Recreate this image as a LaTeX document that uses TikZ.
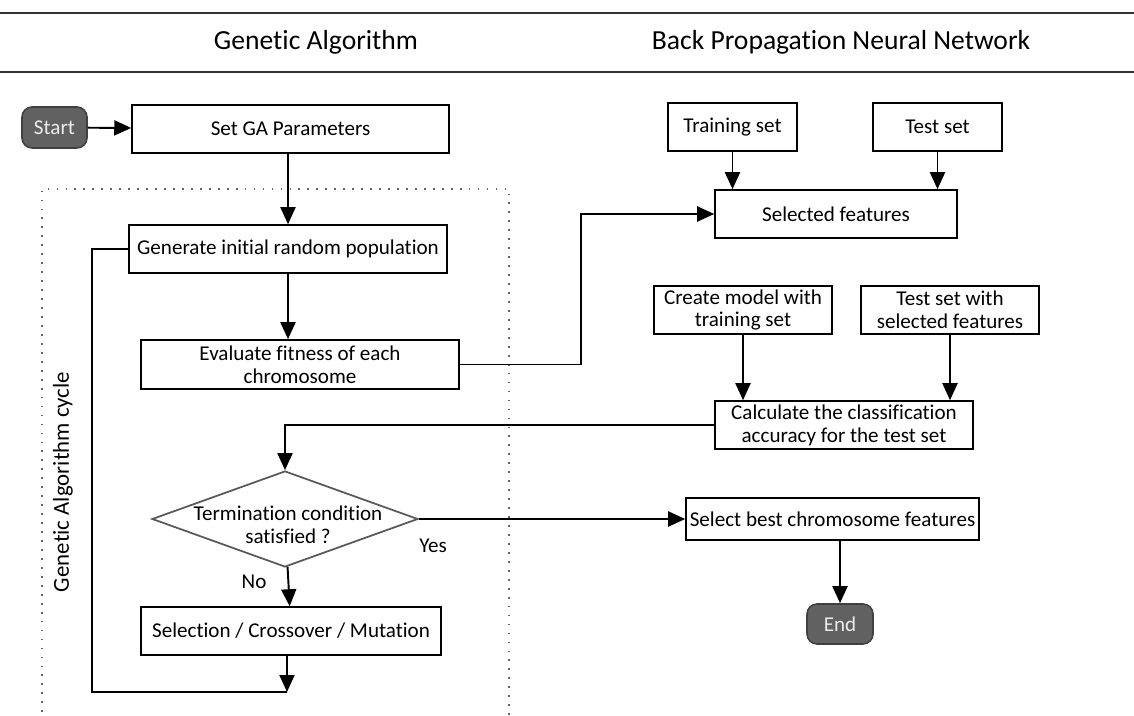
\documentclass[tikz,border=0pt]{standalone}
\usepackage{fontspec}
\setmainfont{Carlito}[Ligatures={NoCommon}]
\usetikzlibrary{
  arrows.meta,
  shapes.geometric
}
\tikzset{
  >={Triangle[length=0.34cm, width=0.3cm]},
  every node/.style = {font=\fontsize{12}{13}\selectfont},
  process/.style = {draw, line width=0.9pt, inner sep=2pt, align=center,
    minimum height=0.96cm},
  terminal/.style = {draw=black!75, fill=black!62, text=black!8,
    rounded corners=0.2cm, line width=0.9pt},
  decision/.style = {diamond, draw=black!65, line width=1pt, inner sep=0pt},
  flow/.style = {->, line width=1.1pt},
  link/.style = {line width=1.1pt},
  cycleframe/.style = {draw=black!60, line width=1pt,
    dash pattern=on 1pt off 4.1pt},
  headrule/.style = {draw=black!80, line width=1.5pt},
  headtext/.style = {font=\fontsize{15.7}{17}\selectfont},
}

\begin{document}
\begin{tikzpicture}[x=0.02cm, y=-0.02cm]
  \useasboundingbox (0,0) rectangle (1134,716);

  % headings
  \draw[headrule] (0,13) -- (1134,13);
  \draw[headrule] (0,72) -- (1134,72);
  \node[headtext] (gahead) at (316,42) {Genetic Algorithm};
  \node[headtext] (nnhead) at (841,42) {Back Propagation Neural Network};

  % GA cycle frame
  \draw[cycleframe] (42,730) |- (509,189) -- (509,730);
  \node[rotate=90, font=\fontsize{13}{14}\selectfont] (cyclelabel) at (63,482)
    {Genetic Algorithm cycle};

  % genetic algorithm
  \node[terminal, minimum width=1.3cm, minimum height=0.82cm] (start) at (54.5,127.5) {Start};
  \node[process, minimum width=6.34cm] (setga) at (290.5,129) {Set GA Parameters};
  \node[process, minimum width=6.36cm] (gen) at (288,249) {Generate initial random population};
  \node[process, minimum width=6.36cm, minimum height=0.98cm] (eval) at (300,364.5)
    {Evaluate fitness of each\\chromosome};
  \node[decision, minimum width=5.32cm, minimum height=1.92cm] (cond) at (285,519) {};
  \node[align=center] (condtext) at (288,525) {Termination condition\\satisfied ?};
  \node[process, minimum width=6.0cm] (select) at (291,631) {Selection / Crossover / Mutation};
  \coordinate (loop) at (287,692);

  % neural network
  \node[process, minimum width=2.58cm] (train) at (732.5,127) {Training set};
  \node[process, minimum width=2.58cm] (test) at (937.5,127) {Test set};
  \node[process, minimum width=4.84cm] (selfeat) at (836,214) {Selected features};
  \node[process, minimum width=3.56cm] (model) at (743,310) {Create model with\\training set};
  \node[process, minimum width=3.56cm] (testsel) at (950,310) {Test set with\\selected features};
  \node[process, minimum width=5.16cm] (calc) at (844,425)
    {Calculate the classification\\accuracy for the test set};
  \node[process, minimum width=5.86cm, minimum height=0.84cm] (best) at (832.5,519)
    {Select best chromosome features};
  \node[terminal, minimum width=1.32cm, minimum height=0.8cm] (end) at (840,624) {End};

  \node (yes) at (433,546) {Yes};
  \node (no) at (254,582) {No};

  % connectors
  \draw[flow] (start) -- (setga);
  \draw[flow] (setga.south -| gen.north) -- (gen);
  \draw[flow] (gen) -- (gen.south |- eval.north);
  \draw[flow] (eval.east) -- ++(2.42cm,0) |- (selfeat.west);
  \draw[flow] (train) -- (train |- selfeat.north);
  \draw[flow] (test) -- (test |- selfeat.north);
  \draw[flow] (model) -- (model |- calc.north);
  \draw[flow] (testsel) -- (testsel |- calc.north);
  \draw[flow] (calc.west) -| (cond.north);
  \draw[flow] (cond.east) -- (best.west);
  \draw[flow] (best.south -| end.north) -- (end);
  \draw[flow] (cond) -- (select);
  \draw[flow] (select.south -| loop) -- (loop);
  \draw[link] (loop) -- ++(-3.9cm,0) |- (gen.west);
\end{tikzpicture}
\end{document}
